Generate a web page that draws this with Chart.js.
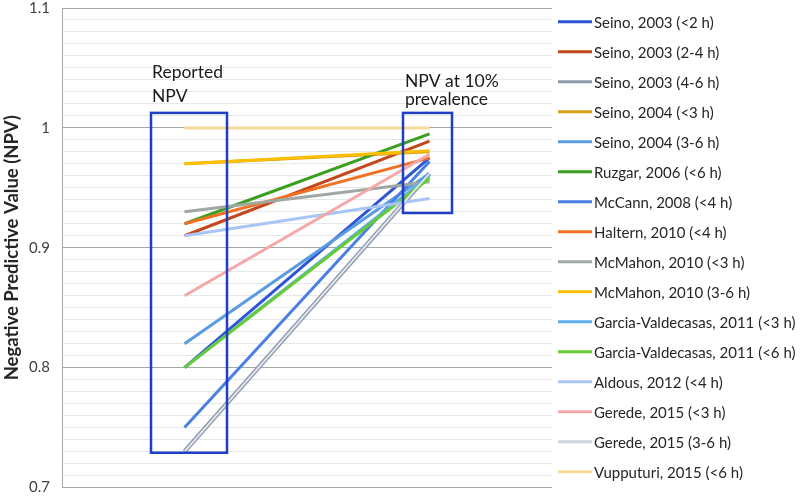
<!DOCTYPE html>
<html>
<head>
<meta charset="utf-8">
<script src="https://cdn.jsdelivr.net/npm/chart.js@4.4.0/dist/chart.umd.min.js"></script>
<style>
  html, body { margin: 0; padding: 0; background: #fff; }
</style>
</head>
<body>
<canvas id="npvChart" width="800" height="497"></canvas>
<script>
// x categories
var stages = ["Reported NPV", "NPV at 10% prevalence"];

// studies, in legend order
var studies = [
    "Seino, 2003 (<2 h)",
    "Seino, 2003 (2-4 h)",
    "Seino, 2003 (4-6 h)",
    "Seino, 2004 (<3 h)",
    "Seino, 2004 (3-6 h)",
    "Ruzgar, 2006 (<6 h)",
    "McCann, 2008 (<4 h)",
    "Haltern, 2010 (<4 h)",
    "McMahon, 2010 (<3 h)",
    "McMahon, 2010 (3-6 h)",
    "Garcia-Valdecasas, 2011 (<3 h)",
    "Garcia-Valdecasas, 2011 (<6 h)",
    "Aldous, 2012 (<4 h)",
    "Gerede, 2015 (<3 h)",
    "Gerede, 2015 (3-6 h)",
    "Vupputuri, 2015 (<6 h)"
];

var reportedNpv = [0.80, 0.91, 0.73, 0.97, 0.82, 0.92, 0.75, 0.92, 0.93, 0.97, 0.80, 0.80, 0.91, 0.86, 0.73, 1.00];
var npvAt10 = [0.975, 0.989, 0.962, 0.980, 0.962, 0.995, 0.972, 0.975, 0.955, 0.981, 0.960, 0.958, 0.941, 0.978, 0.962, 1.000];

var lineColors = [
    "#2F54D6", "#C4461B", "#8E9AAE", "#D4A017",
    "#5B9BE0", "#3A9E1E", "#4A7FE3", "#F27022",
    "#A0A8A3", "#FFBE00", "#5AAEEF", "#66CC33",
    "#A9C5F5", "#F5A8A8", "#E4E7EC", "#F9D999"
];
var lineWidths = [3, 3, 4.5, 3, 3, 3, 3, 3, 3, 3, 3, 3, 3, 3, 1.8, 3];

var yTicks = [0.7, 0.8, 0.9, 1, 1.1];

var FONT = "Lato";

// blue boxes + labels (category index, pixel offsets, value range)
var boxes = [
    { cat: 0, dx0: -33.5, dx1: 42.5, top: 1.0125, bottom: 0.729, lines: ["Reported", "NPV"], base: [-35, -11], tx: 1 },
    { cat: 1, dx0: -26.5, dx1: 22.5, top: 1.0125, bottom: 0.929, lines: ["NPV at 10%", "prevalence"], base: [-26, -8], tx: 2 }
];

var datasets = studies.map(function(name, i){
    return {
        label: name,
        data: [reportedNpv[i], npvAt10[i]],
        borderColor: lineColors[i],
        backgroundColor: lineColors[i],
        borderWidth: lineWidths[i],
        pointRadius: 0,
        tension: 0,
        order: studies.length - i     // later series drawn on top
    };
});

function isMajor(v) {
    return Math.round(v * 100) % 10 === 0;
}

// boxes, labels and the legend
var extras = {
    id: "extras",
    afterDatasetsDraw: function(chart) {
        var ctx = chart.ctx;
        var xs = chart.scales.x, ys = chart.scales.y;
        ctx.save();
        boxes.forEach(function(b){
            var cx = xs.getPixelForValue(b.cat);
            var x0 = cx + b.dx0, x1 = cx + b.dx1;
            var y0 = ys.getPixelForValue(b.top), y1 = ys.getPixelForValue(b.bottom);
            ctx.strokeStyle = "#1E3FC4";
            ctx.lineWidth = 2.5;
            ctx.strokeRect(x0, y0, x1 - x0, y1 - y0);
            ctx.fillStyle = "#1a1a1a";
            ctx.font = "17.5px " + FONT;
            ctx.textAlign = "left";
            ctx.textBaseline = "alphabetic";
            b.lines.forEach(function(t, k){
                ctx.fillText(t, x0 + b.tx, y0 + b.base[k]);
            });
        });

        // legend
        var area = chart.chartArea;
        ctx.font = "15px " + FONT;
        ctx.textBaseline = "middle";
        studies.forEach(function(name, i){
            var y = area.top + 13.7 + 30 * i;
            ctx.strokeStyle = lineColors[i] === "#E4E7EC" ? "#D1D5DE" : lineColors[i];
            ctx.lineWidth = 3;
            ctx.beginPath();
            ctx.moveTo(area.right + 6, y);
            ctx.lineTo(area.right + 40, y);
            ctx.stroke();
            ctx.fillStyle = "#262626";
            ctx.fillText(name, area.right + 42, y + 1);
        });
        ctx.restore();
    }
};

var npvChart = new Chart(document.getElementById("npvChart"), {
    type: "line",
    data: {
        labels: stages,
        datasets: datasets
    },
    options: {
        responsive: false,
        animation: false,
        layout: { padding: { top: 8, bottom: 9.5, left: 0, right: 248 } },
        plugins: {
            legend: { display: false },
            tooltip: { enabled: false }
        },
        scales: {
            x: {
                offset: true,
                grid: { display: false },
                border: { display: false },
                ticks: { display: false },
                afterFit: function(s){ s.height = 0; }
            },
            y: {
                min: yTicks[0],
                max: yTicks[yTicks.length - 1],
                afterFit: function(s){
                    s.width = 62;
                    s.paddingTop = 0;      // keep the tick padding out of the plot height
                    s.paddingBottom = 0;
                },
                ticks: {
                    stepSize: 0.01,
                    autoSkip: false,
                    padding: 12,
                    color: "#404040",
                    font: { family: FONT, size: 15 },
                    callback: function(v){
                        var t = Math.round(v * 100);
                        return t % 10 === 0 ? String(t / 100) : "";
                    }
                },
                grid: {
                    drawTicks: false,
                    color: function(c){ return isMajor(c.tick.value) ? "#A0AAA5" : "#E6E8E8"; }
                },
                border: { color: "#A0AAA5" },
                title: {
                    display: true,
                    text: "Negative Predictive Value (NPV)",
                    color: "#262626",
                    font: { family: FONT, size: 18.5, weight: "bold" },
                    padding: { top: 1, bottom: 0 }
                }
            }
        }
    },
    plugins: [extras]
});
</script>
</body>
</html>
